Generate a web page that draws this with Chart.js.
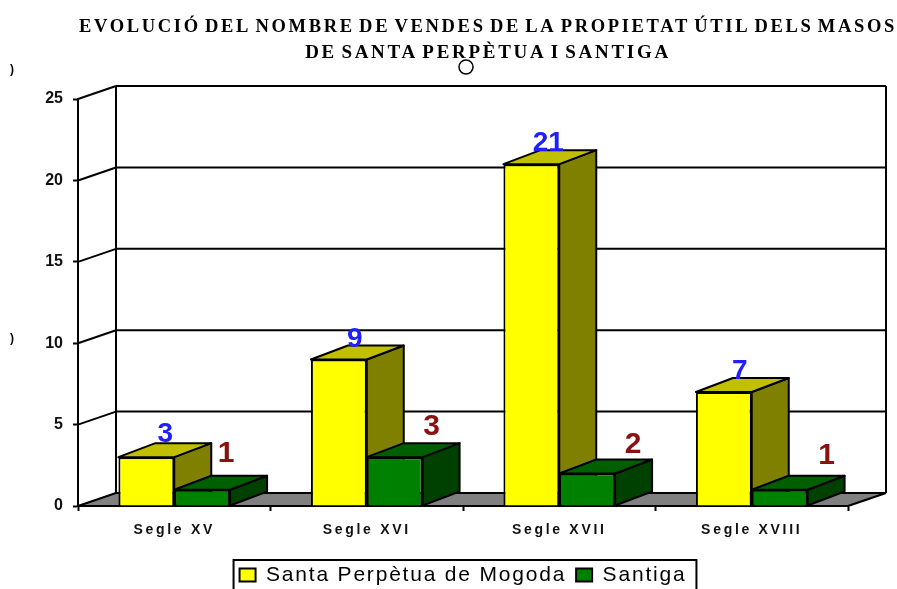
<!DOCTYPE html>
<html>
<head>
<meta charset="utf-8">
<title>Evolució vendes</title>
<script src="https://cdn.jsdelivr.net/npm/chart.js@4"></script>
<style>
    html, body { margin: 0; padding: 0; background: #fff; overflow: hidden; }
    /* the source picture is a soft upscaled image */
    canvas { display: block; filter: blur(0.5px); }
</style>
</head>
<body>
<canvas id="chart" width="897" height="589"></canvas>
<script>
const titleLines = ['EVOLUCIÓ DEL NOMBRE DE VENDES DE LA PROPIETAT ÚTIL DELS MASOS', 'DE SANTA PERPÈTUA I SANTIGA'];
const categories = ['Segle XV', 'Segle XVI', 'Segle XVII', 'Segle XVIII'];
const santaPerpetua = [3, 9, 21, 7];
const santiga = [1, 3, 2, 1];
const seriesNames = ['Santa Perpètua de Mogoda', 'Santiga'];

// 3D look: how far the back wall sits from the front plane
const depthX = 38;
const depthY = 13;
const barDepthX = 37;
const barDepthY = 14;

// label nudges relative to the top centre of each bar
const blueNudge = [[19, -23], [16, -20], [17, -21], [16, -21]];
const redNudge = [[24, -36], [37, -30], [46, -29], [47, -34]];

function line(ctx, x1, y1, x2, y2) {
    ctx.beginPath();
    ctx.moveTo(x1, y1);
    ctx.lineTo(x2, y2);
    ctx.stroke();
}

function poly(ctx, pts, fill) {
    ctx.beginPath();
    ctx.moveTo(pts[0][0], pts[0][1]);
    pts.slice(1).forEach(p => ctx.lineTo(p[0], p[1]));
    ctx.closePath();
    ctx.fillStyle = fill;
    ctx.fill();
    ctx.stroke();
}

// Chart.js has no letter spacing option, so wrap the draw call
function spaced(box, method, px, wordPx) {
    const orig = box[method];
    box[method] = function () {
        box.ctx.letterSpacing = px;
        box.ctx.wordSpacing = wordPx || '0px';
        orig.apply(box, arguments);
        box.ctx.letterSpacing = '0px';
        box.ctx.wordSpacing = '0px';
    };
}

const wallsPlugin = {
    id: 'walls',
    beforeLayout(chart) {
        // legend has to measure its text with the spacing it is drawn with
        chart.ctx.letterSpacing = '1.8px';
    },
    afterLayout(chart) {
        chart.ctx.letterSpacing = '0px';
        if (!chart.$wrapped) {
            chart.$wrapped = true;
            // title sits right of the canvas centre in the original
            chart.titleBlock.left = 79;
            chart.titleBlock.right = 897;
            spaced(chart.titleBlock, 'draw', '2.7px', '-3px');
            spaced(chart.legend, 'draw', '1.8px');
            spaced(chart.scales.x, 'drawLabels', '2.7px');
        }
    },
    beforeDraw(chart) {
        const ctx = chart.ctx;
        const { left, right, bottom } = chart.chartArea;
        const y = chart.scales.y;
        const topBack = y.getPixelForValue(25) - depthY;
        const floorBack = bottom - depthY;

        ctx.save();
        ctx.strokeStyle = '#000';
        ctx.lineWidth = 1;
        poly(ctx, [[left, bottom], [left + depthX, floorBack], [right + depthX, floorBack], [right, bottom]], '#808080');

        ctx.lineWidth = 2;
        y.ticks.forEach(t => {
            const py = y.getPixelForValue(t.value);
            line(ctx, left + depthX, py - depthY, right + depthX, py - depthY);
            line(ctx, left, py, left + depthX, py - depthY);
        });
        line(ctx, left + depthX, topBack, left + depthX, floorBack);
        line(ctx, right + depthX, topBack, right + depthX, floorBack);
        line(ctx, right, bottom, right + depthX, floorBack);
        ctx.restore();
    },
    beforeDatasetsDraw(chart) {
        // sides and tops go yellow first, green after, so green overlaps the yellow side
        const ctx = chart.ctx;
        ctx.save();
        ctx.strokeStyle = '#000';
        ctx.lineWidth = 2;
        ctx.lineJoin = 'round';
        chart.data.datasets.forEach((ds, i) => {
            chart.getDatasetMeta(i).data.forEach(bar => {
                const p = bar.getProps(['x', 'y', 'base', 'width'], true);
                const l = p.x - p.width / 2;
                const r = p.x + p.width / 2;
                poly(ctx, [[r, p.y], [r + barDepthX, p.y - barDepthY], [r + barDepthX, p.base - barDepthY], [r, p.base]], ds.sideColor);
                poly(ctx, [[l, p.y], [l + barDepthX, p.y - barDepthY], [r + barDepthX, p.y - barDepthY], [r, p.y]], ds.topColor);
            });
        });
        ctx.restore();
    },
    afterDatasetsDraw(chart) {
        const ctx = chart.ctx;
        ctx.save();
        ctx.textAlign = 'center';
        ctx.textBaseline = 'middle';
        chart.data.datasets.forEach((ds, i) => {
            ctx.font = 'bold ' + ds.labelSize + 'px "Liberation Sans"';
            chart.getDatasetMeta(i).data.forEach((bar, j) => {
                const nudge = ds.nudge[j];
                ctx.fillStyle = ds.labelColor;
                ctx.fillText(String(ds.data[j]), bar.x + nudge[0], bar.y + nudge[1]);
            });
        });
        ctx.restore();
    },
    afterDraw(chart) {
        const ctx = chart.ctx;
        const boxes = chart.legend.legendHitBoxes;
        const last = boxes[boxes.length - 1];
        ctx.save();
        ctx.strokeStyle = '#000';
        ctx.lineWidth = 2;
        // legend frame runs off the bottom of the picture
        ctx.strokeRect(boxes[0].left - 6, chart.legend.top + 5.5, last.left + last.width - boxes[0].left + 16, 60);

        // stray marks in the source image
        ctx.lineWidth = 1.5;
        ctx.beginPath();
        ctx.arc(466, 67, 7, 0, Math.PI * 2);
        ctx.stroke();
        ctx.fillStyle = '#000';
        ctx.font = 'bold 12px "Liberation Sans"';
        ctx.fillText(')', 10, 70);
        ctx.fillText(')', 10, 339);
        ctx.restore();
    }
};

new Chart(document.getElementById('chart'), {
    type: 'bar',
    data: {
        labels: categories,
        datasets: [
            {
                label: seriesNames[0],
                data: santaPerpetua,
                backgroundColor: '#ffff00',
                sideColor: '#808000',
                topColor: '#c0c000',
                labelColor: '#2020ff',
                labelSize: 28,
                nudge: blueNudge,
                borderColor: '#000',
                borderWidth: 2
            },
            {
                label: seriesNames[1],
                data: santiga,
                backgroundColor: '#008000',
                sideColor: '#004000',
                topColor: '#006000',
                labelColor: '#8b1010',
                labelSize: 30,
                nudge: redNudge,
                borderColor: '#000',
                borderWidth: 2
            }
        ]
    },
    options: {
        responsive: false,
        animation: false,
        layout: { padding: { right: 49, bottom: -6.5 } },
        datasets: { bar: { categoryPercentage: 0.58, barPercentage: 1 } },
        plugins: {
            tooltip: { enabled: false },
            title: {
                display: true,
                text: titleLines,
                color: '#000',
                font: { family: '"Liberation Serif"', size: 19, weight: 'bold', lineHeight: 1.37 },
                padding: { top: 14, bottom: 33 }
            },
            legend: {
                position: 'bottom',
                fullSize: false,
                labels: {
                    boxWidth: 16,
                    boxHeight: 13,
                    padding: 10,
                    color: '#000',
                    font: { family: '"Liberation Sans"', size: 21 }
                }
            }
        },
        scales: {
            x: {
                afterFit(scale) { scale.height = 48.5; },
                grid: { drawOnChartArea: false, tickLength: 5, tickColor: '#000', tickWidth: 2 },
                border: { color: '#000', width: 2 },
                ticks: {
                    padding: 11,
                    color: '#111',
                    maxRotation: 0,
                    font: { family: '"Liberation Sans"', size: 14, weight: 'bold' }
                }
            },
            y: {
                min: 0,
                max: 25,
                afterFit(scale) { scale.width = 78; },
                grid: { drawOnChartArea: false, tickLength: 5, tickColor: '#000', tickWidth: 2 },
                border: { color: '#000', width: 2 },
                ticks: {
                    stepSize: 5,
                    padding: 10,
                    color: '#111',
                    font: { family: '"Liberation Sans"', size: 16, weight: 'bold' }
                }
            }
        }
    },
    plugins: [wallsPlugin]
});
</script>
</body>
</html>
